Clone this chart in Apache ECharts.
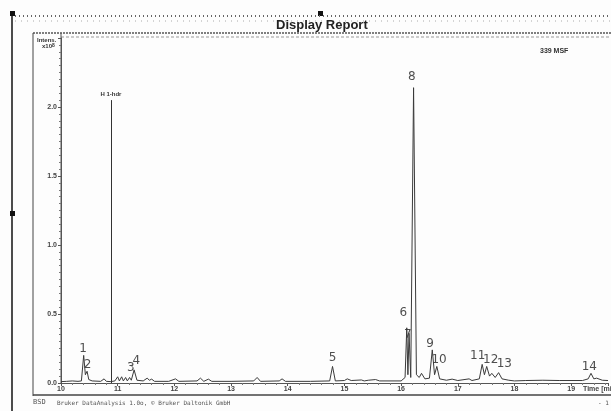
<!DOCTYPE html>
<html style="height: 100%">
<head>
<meta charset="utf-8">
</head>
<body style="height: 100%; margin: 0; background: #fff">
<div id="container" style="width: 611px; height: 411px"></div>
<script type="text/javascript" src="https://cdn.jsdelivr.net/npm/echarts@6/dist/echarts.min.js"></script>
<script type="text/javascript">
// retention time (min) and intensity (x10^8)
var rt = [10.00, 10.10, 10.20, 10.30, 10.36, 10.40, 10.43, 10.46, 10.49, 10.55, 10.70, 10.76, 10.80, 10.88, 10.95,
          11.00, 11.03, 11.07, 11.10, 11.14, 11.17, 11.21, 11.24, 11.29, 11.34, 11.45, 11.52, 11.56, 11.60, 11.65,
          11.90, 12.02, 12.08, 12.40, 12.46, 12.52, 12.60, 12.66, 13.00, 13.40, 13.46, 13.52, 13.85, 13.90, 13.96,
          14.40, 14.74, 14.79, 14.84, 15.00, 15.05, 15.12, 15.30, 15.35, 15.42, 15.55, 15.62, 16.00, 16.07, 16.10,
          16.12, 16.14, 16.17, 16.22, 16.27, 16.32, 16.36, 16.42, 16.50, 16.55, 16.59, 16.63, 16.68, 16.80, 16.90,
          17.00, 17.20, 17.25, 17.38, 17.43, 17.47, 17.51, 17.56, 17.60, 17.66, 17.72, 17.78, 17.90, 18.00, 18.20,
          18.50, 18.80, 19.20, 19.30, 19.35, 19.40, 19.45, 19.55, 19.65];
var intensity = [0.010, 0.012, 0.015, 0.012, 0.015, 0.200, 0.060, 0.085, 0.025, 0.015, 0.012, 0.030, 0.012, 0.010, 0.015,
                 0.045, 0.015, 0.045, 0.015, 0.040, 0.015, 0.040, 0.020, 0.095, 0.020, 0.015, 0.035, 0.020, 0.028, 0.012,
                 0.012, 0.030, 0.012, 0.015, 0.035, 0.012, 0.028, 0.012, 0.012, 0.015, 0.040, 0.012, 0.015, 0.030, 0.012,
                 0.012, 0.015, 0.120, 0.015, 0.018, 0.030, 0.018, 0.022, 0.015, 0.020, 0.025, 0.015, 0.015, 0.040, 0.400,
                 0.060, 0.360, 0.040, 2.140, 0.060, 0.040, 0.070, 0.030, 0.035, 0.240, 0.060, 0.120, 0.030, 0.020, 0.028,
                 0.018, 0.030, 0.018, 0.030, 0.135, 0.060, 0.120, 0.050, 0.070, 0.040, 0.075, 0.030, 0.020, 0.015, 0.018,
                 0.020, 0.018, 0.018, 0.030, 0.070, 0.030, 0.035, 0.020, 0.018];

// peak numbers and where each number is written
var peakNames = ['1', '2', '3', '4', '5', '6', '7', '8', '9', '10', '11', '12', '13', '14'];
var peakLabelRt = [10.39, 10.47, 11.23, 11.33, 14.79, 16.04, 16.12, 16.19, 16.51, 16.67, 17.35, 17.58, 17.82, 19.32];
var peakLabelY = [0.25, 0.13, 0.11, 0.16, 0.18, 0.51, 0.35, 2.22, 0.28, 0.17, 0.20, 0.17, 0.14, 0.12];

// internal standard marker
var markerName = 'H 1-hdr';
var markerRt = 10.88;
var markerTop = 2.05;

var xTicks = [10, 11, 12, 13, 14, 15, 16, 17, 18, 19];

var dom = document.getElementById('container');
var myChart = echarts.init(dom);

var trace = rt.map(function (t, i) { return [t, intensity[i]]; });
var labels = peakNames.map(function (n, i) { return { value: [peakLabelRt[i], peakLabelY[i]], name: n }; });

var option = {
    backgroundColor: '#fdfdfd',
    animation: false,
    grid: { left: 61, right: 0, top: 38, bottom: 28 },
    xAxis: {
        type: 'value',
        min: 10,
        max: 19.65,
        interval: 1,
        axisLine: { lineStyle: { color: '#555', width: 1 } },
        axisTick: { length: 3, lineStyle: { color: '#555' } },
        minorTick: { show: true, splitNumber: 5, length: 2, lineStyle: { color: '#777' } },
        splitLine: { show: false },
        axisLabel: {
            fontSize: 7, fontWeight: 'bold', color: '#444', margin: 3,
            fontFamily: 'Liberation Sans',
            formatter: function (v) { return xTicks.indexOf(v) >= 0 ? String(v) : ''; }
        }
    },
    yAxis: {
        type: 'value',
        min: 0,
        max: 2.5,
        interval: 0.5,
        axisLine: { show: true, lineStyle: { color: '#555', width: 1 } },
        axisTick: { show: true, length: 3, lineStyle: { color: '#555' } },
        minorTick: { show: true, splitNumber: 10, length: 2, lineStyle: { color: '#777' } },
        splitLine: { show: false },
        axisLabel: {
            fontSize: 7, fontWeight: 'bold', color: '#444', margin: 4,
            fontFamily: 'Liberation Sans',
            formatter: function (v) { return v > 2.01 ? '' : v.toFixed(1); }
        }
    },
    series: [{
        type: 'line',
        data: trace,
        symbol: 'none',
        lineStyle: { color: '#3a3a3a', width: 1 },
        markLine: {
            symbol: 'none',
            silent: true,
            lineStyle: { color: '#333', width: 1, type: 'solid' },
            label: {
                position: 'end', formatter: markerName, fontSize: 6, fontWeight: 'bold',
                color: '#333', fontFamily: 'Liberation Sans', distance: 3
            },
            data: [[{ coord: [markerRt, 0] }, { coord: [markerRt, markerTop] }]]
        }
    }, {
        type: 'scatter',
        data: labels,
        symbolSize: 0,
        silent: true,
        label: {
            show: true, position: 'inside', formatter: '{b}',
            fontSize: 12, color: '#222', fontFamily: 'DejaVu Sans'
        }
    }],
    graphic: [
        // page edge and header band
        { type: 'line', shape: { x1: 12, y1: 12, x2: 12, y2: 411 }, style: { stroke: '#111', lineWidth: 1.5 } },
        { type: 'rect', shape: { x: 10, y: 11, width: 5, height: 5 }, style: { fill: '#111' } },
        { type: 'rect', shape: { x: 10, y: 211, width: 5, height: 5 }, style: { fill: '#111' } },
        { type: 'rect', shape: { x: 318, y: 11, width: 5, height: 5 }, style: { fill: '#111' } },
        { type: 'line', shape: { x1: 15, y1: 16, x2: 611, y2: 16 }, style: { stroke: '#666', lineWidth: 2, lineDash: [1, 3] } },
        { type: 'line', shape: { x1: 15, y1: 21, x2: 611, y2: 21 }, style: { stroke: '#aaa', lineWidth: 1, lineDash: [1, 5] } },
        { type: 'text', left: 276, top: 19, style: { text: 'Display Report', fontSize: 13, fontWeight: 'bold', fill: '#222', fontFamily: 'Liberation Sans' } },
        // plot frame
        { type: 'line', shape: { x1: 33, y1: 33, x2: 611, y2: 33 }, style: { stroke: '#555', lineWidth: 1.5, lineDash: [2, 1] } },
        { type: 'line', shape: { x1: 61, y1: 37, x2: 611, y2: 37 }, style: { stroke: '#999', lineWidth: 1, lineDash: [3, 2] } },
        { type: 'line', shape: { x1: 33, y1: 33, x2: 33, y2: 396 }, style: { stroke: '#444', lineWidth: 1 } },
        { type: 'line', shape: { x1: 33, y1: 395, x2: 611, y2: 395 }, style: { stroke: '#444', lineWidth: 1.5 } },
        { type: 'line', shape: { x1: 61, y1: 33, x2: 61, y2: 383 }, style: { stroke: '#555', lineWidth: 1 } },
        { type: 'text', left: 37, top: 37, style: { text: 'Intens.', fontSize: 6, fontWeight: 'bold', fill: '#333', fontFamily: 'Liberation Sans' } },
        { type: 'text', left: 42, top: 43, style: { text: '{a|x10}{s|8}', rich: { a: { fontSize: 6, fontWeight: 'bold', fill: '#333' }, s: { fontSize: 5, fontWeight: 'bold', fill: '#333', verticalAlign: 'top' } }, fontFamily: 'Liberation Sans' } },
        { type: 'text', left: 540, top: 48, style: { text: '339 MSF', fontSize: 7, fontWeight: 'bold', fill: '#333', fontFamily: 'Liberation Sans' } },
        { type: 'text', left: 583, top: 386, style: { text: 'Time [min]', fontSize: 7, fontWeight: 'bold', fill: '#444', fontFamily: 'Liberation Sans' } },
        // footer
        { type: 'text', left: 33, top: 399, style: { text: 'BSD', fontSize: 7, fill: '#555', fontFamily: 'DejaVu Sans Mono', textDecoration: 'line-through' } },
        { type: 'text', left: 57, top: 400, style: { text: 'Bruker DataAnalysis 1.0o, \u00a9 Bruker Daltonik GmbH', fontSize: 6, fill: '#555', fontFamily: 'DejaVu Sans Mono' } },
        { type: 'text', left: 598, top: 400, style: { text: '- 1', fontSize: 6, fill: '#555', fontFamily: 'DejaVu Sans Mono' } }
    ]
};

myChart.setOption(option);
</script>
</body>
</html>
